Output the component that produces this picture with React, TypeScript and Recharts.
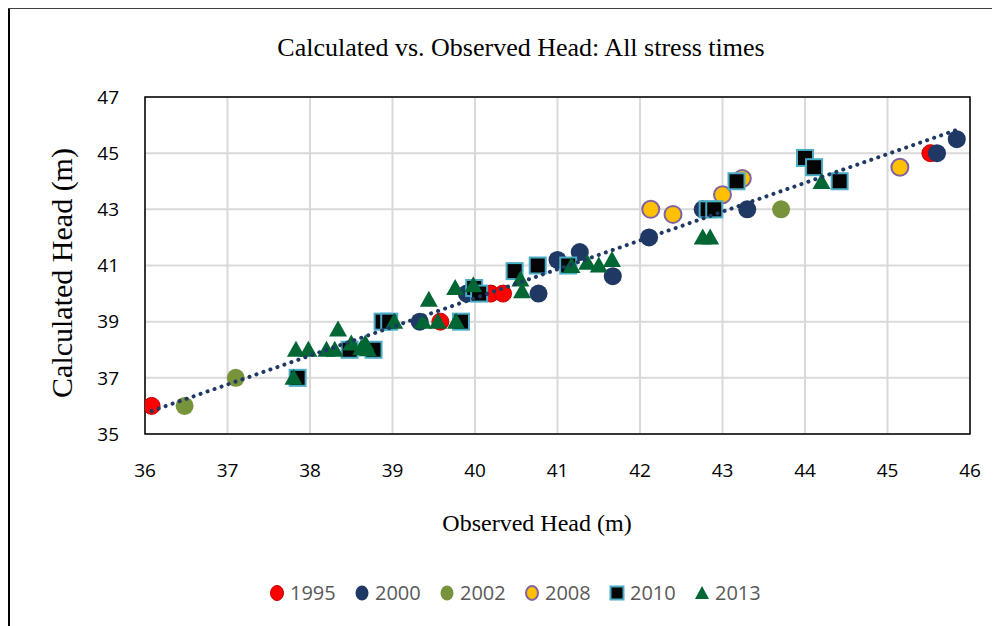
import React from 'react';
import { ScatterChart, Scatter, XAxis, YAxis, CartesianGrid, ReferenceArea } from 'recharts';

const xTicks = [36, 37, 38, 39, 40, 41, 42, 43, 44, 45, 46];
const yTicks = [35, 37, 39, 41, 43, 45, 47];
const seriesNames = ['1995', '2000', '2002', '2008', '2010', '2013'];

const obs1995 = [36.08, 39.58, 40.19, 40.34, 45.52];
const calc1995 = [36, 39, 40, 40, 45];

const obs2000 = [39.33, 39.9, 40.77, 41.0, 41.27, 41.67, 42.11, 42.76, 43.3, 45.6, 45.84];
const calc2000 = [39, 40, 40, 41.2, 41.48, 40.62, 42, 43, 43, 45, 45.5];

const obs2002 = [36.48, 37.1, 43.71];
const calc2002 = [36, 37, 43];

const obs2008 = [42.13, 42.4, 43.0, 43.24, 45.15];
const calc2008 = [43, 42.82, 43.52, 44.1, 44.5];

const obs2010 = [37.85, 38.48, 38.77, 38.88, 38.96, 39.83, 39.99, 40.05, 40.48, 40.76, 41.13, 42.82, 42.9, 43.17, 44.0, 44.11, 44.42];
const calc2010 = [37, 38, 38, 39, 39, 39, 40.2, 40, 40.8, 41, 41, 43, 43, 44, 44.83, 44.5, 44];

const obs2013 = [37.8, 37.83, 37.98, 38.2, 38.3, 38.34, 38.5, 38.62, 38.67, 38.7, 39.02, 39.37, 39.44, 39.55, 39.77, 39.76, 39.98, 40.55, 40.57, 41.17, 41.36, 41.5, 41.66, 42.76, 42.85, 44.2];
const calc2013 = [37, 38, 38, 38, 38, 38.72, 38.22, 38.05, 38.22, 38.02, 39, 39, 39.78, 39, 39, 40.2, 40.3, 40.5, 40.08, 40.98, 41.1, 41, 41.2, 42, 42, 43.97];

const trendObs = [36.08, 45.84];
const trendCalc = [35.82, 45.83];

const pts = (xs: number[], ys: number[]) => xs.map((x, i) => ({ x, y: ys[i] }));

const tickFont = '"Open Sans", "Noto Sans", sans-serif';
const serif = '"Liberation Serif", "Times New Roman", serif';

const NAVY = '#1f3864';

const circleShape = (fill: string, stroke: string, sw: number, r: number) => (p: any) => (
  <circle cx={p.cx} cy={p.cy} r={r} fill={fill} stroke={stroke} strokeWidth={sw} />
);
const squareShape = (p: any) => (
  <rect x={p.cx - 8} y={p.cy - 8} width={16} height={16} fill="#050505" stroke="#4bacc6" strokeWidth={2} />
);
const triangleShape = (p: any) => (
  <polygon points={`${p.cx},${p.cy - 9} ${p.cx - 9},${p.cy + 7} ${p.cx + 9},${p.cy + 7}`} fill="#006633" />
);

const LegendMarker = ({ i }: { i: number }) => {
  const s = 18;
  return (
    <svg width={s} height={s} style={{ display: 'block' }}>
      {i === 0 && <ellipse cx={9} cy={9} rx={6.5} ry={7.5} fill="#ff0000" stroke="#c00000" strokeWidth={1} />}
      {i === 1 && <ellipse cx={9} cy={9} rx={6.5} ry={7.5} fill={NAVY} />}
      {i === 2 && <ellipse cx={9} cy={9} rx={6.5} ry={7.5} fill="#77933c" />}
      {i === 3 && <ellipse cx={9} cy={9} rx={6} ry={7} fill="#ffc000" stroke="#8064a2" strokeWidth={2} />}
      {i === 4 && <rect x={2.5} y={2.5} width={13} height={13} fill="#050505" stroke="#4bacc6" strokeWidth={2} />}
      {i === 5 && <polygon points="9,2 2,15 16,15" fill="#006633" />}
    </svg>
  );
};

export default function App() {
  return (
    <div style={{ position: 'relative', width: 992, height: 618, overflow: 'hidden', background: '#fff' }}>
      <div style={{ position: 'absolute', left: 0, top: 0, width: 2, height: 618, background: '#000' }} />
      <div style={{ position: 'absolute', left: 0, top: 0, width: 992, height: 1, background: '#404040' }} />
      <ScatterChart width={992} height={618} margin={{ top: 89, right: 30, left: 0, bottom: 132 }}>
        <CartesianGrid stroke="#d9d9d9" strokeWidth={2} />
        <XAxis
          type="number"
          dataKey="x"
          domain={[36, 46]}
          ticks={xTicks}
          allowDataOverflow
          height={60}
          tickLine={false}
          axisLine={false}
          tickMargin={24}
          tick={{ fill: '#000', fontSize: 19, fontFamily: tickFont }}
        />
        <YAxis
          type="number"
          dataKey="y"
          domain={[35, 47]}
          ticks={yTicks}
          allowDataOverflow
          width={137}
          tickLine={false}
          axisLine={false}
          tickMargin={20}
          tick={{ fill: '#000', fontSize: 19, fontFamily: tickFont }}
        />
        <ReferenceArea x1={36} x2={46} y1={35} y2={47} fill="none" fillOpacity={0} stroke="#000" strokeWidth={1.5} ifOverflow="visible" />
        <Scatter name={seriesNames[0]} data={pts(obs1995, calc1995)} shape={circleShape('#ff0000', '#c00000', 1, 8.5)} isAnimationActive={false} />
        <Scatter name={seriesNames[1]} data={pts(obs2000, calc2000)} shape={circleShape(NAVY, 'none', 0, 9)} isAnimationActive={false} />
        <Scatter name={seriesNames[2]} data={pts(obs2002, calc2002)} shape={circleShape('#77933c', 'none', 0, 9)} isAnimationActive={false} />
        <Scatter name={seriesNames[3]} data={pts(obs2008, calc2008)} shape={circleShape('#ffc000', '#8064a2', 2, 8.5)} isAnimationActive={false} />
        <Scatter name={seriesNames[4]} data={pts(obs2010, calc2010)} shape={squareShape} isAnimationActive={false} />
        <Scatter name={seriesNames[5]} data={pts(obs2013, calc2013)} shape={triangleShape} isAnimationActive={false} />
        <Scatter
          name="trend"
          data={pts(trendObs, trendCalc)}
          shape={() => <g />}
          line={{ stroke: NAVY, strokeWidth: 4, strokeDasharray: '0.1 7.3', strokeLinecap: 'round' }}
          isAnimationActive={false}
        />
      </ScatterChart>
      <div style={{ position: 'absolute', left: 513, top: 40, transform: 'translate(-50%,-50%)', whiteSpace: 'nowrap', fontFamily: serif, fontSize: 26, color: '#000' }}>
        Calculated vs. Observed Head: All stress times
      </div>
      <div style={{ position: 'absolute', left: 54, top: 265, transform: 'translate(-50%,-50%) rotate(-90deg)', whiteSpace: 'nowrap', fontFamily: serif, fontSize: 30, color: '#000' }}>
        Calculated Head (m)
      </div>
      <div style={{ position: 'absolute', left: 529, top: 515, transform: 'translate(-50%,-50%)', whiteSpace: 'nowrap', fontFamily: serif, fontSize: 24, color: '#000' }}>
        Observed Head (m)
      </div>
      {seriesNames.map((n, i) => (
        <div key={n} style={{ position: 'absolute', left: 269 - 9 + i * 85, top: 585 - 9, display: 'flex', alignItems: 'center', gap: 4, whiteSpace: 'nowrap' }}>
          <LegendMarker i={i} />
          <span style={{ fontFamily: tickFont, fontSize: 20, color: '#595959', lineHeight: '18px' }}>{n}</span>
        </div>
      ))}
    </div>
  );
}
